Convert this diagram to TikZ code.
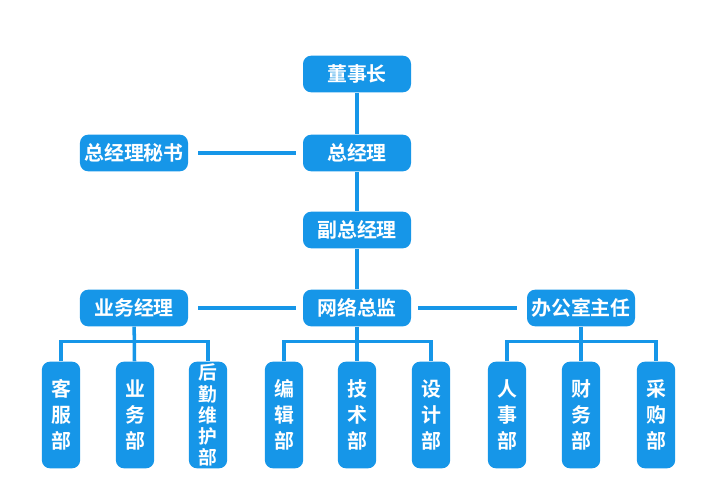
\documentclass[tikz,border=0pt]{standalone}
\usepackage{fontspec}
\newfontfamily\cjk{Noto Sans CJK SC}[BoldFont={* Bold}]
\definecolor{skyblue}{RGB}{22,150,232}
\tikzset{%
    box/.style={fill=skyblue, text=white, rounded corners=7pt, inner sep=0pt,
        font=\cjk\bfseries\fontsize{17}{18}\selectfont},
    wide/.style={box, minimum width=3.24cm, minimum height=1.1cm},
    tall/.style={box, minimum width=1.15cm, minimum height=3.2cm, align=center,
        font=\cjk\bfseries\fontsize{17}{22}\selectfont},
    tight/.style={font=\cjk\bfseries\fontsize{16}{18}\selectfont},
    link/.style={draw=skyblue, line width=3pt}
}
\begin{document}
\begin{tikzpicture}[x=0.03cm,y=-0.03cm]
    \useasboundingbox (0,0) rectangle (713,500);
%-----------------------------------------------
    \node[wide] (chair) at (357,74) {董事长};
    \node[wide] (gm) at (357,153) {总经理};
    \node[wide] (sec) at (134,153) {总经理秘书};
    \node[wide] (vgm) at (357,230) {副总经理};
    \node[wide] (biz) at (134,308) {业务经理};
    \node[wide] (net) at (357,308) {网络总监};
    \node[wide] (off) at (581,308) {办公室主任};
%-----------------------------------------------
    \node[tall] (kf) at (61,415) {客\\服\\部};
    \node[tall] (yw) at (135,415) {业\\务\\部};
    \node[tall, tight] (hq) at (208,415) {后\\勤\\维\\护\\部};
    \node[tall] (bj) at (284,415) {编\\辑\\部};
    \node[tall] (js) at (357,415) {技\\术\\部};
    \node[tall] (sj) at (431,415) {设\\计\\部};
    \node[tall] (rs) at (507,415) {人\\事\\部};
    \node[tall] (cw) at (581,415) {财\\务\\部};
    \node[tall] (cg) at (656,415) {采\\购\\部};
%-----------------------------------------------
    \draw[link] (chair) -- (gm);
    \draw[link] (gm) -- (vgm);
    \draw[link] (vgm) -- (net);
    \draw[link, shorten <=6pt, shorten >=8pt] (gm) -- (sec);
    \draw[link, shorten <=6pt, shorten >=8pt] (net) -- (biz);
    \draw[link, shorten <=6pt, shorten >=8pt] (net) -- (off);
%-----------------------------------------------
    \foreach \top/\l/\m/\r in {biz/kf/yw/hq, net/bj/js/sj, off/rs/cw/cg}{
        \draw[link] (\top) -- (\m);
        \draw[link] (\l.north) -- ++(0,-20) -| (\r.north);
    }
\end{tikzpicture}
\end{document}
